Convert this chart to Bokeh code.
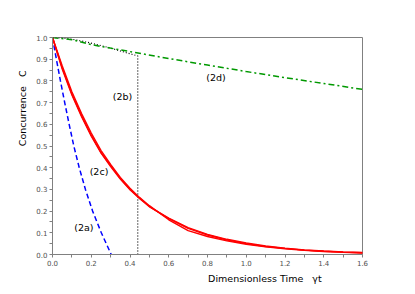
import math
from bokeh.plotting import figure
from bokeh.models import FixedTicker, PrintfTickFormatter, Label, Range1d
from bokeh.embed import file_html
from bokeh.resources import INLINE

# (2a) blue dashed
t_a = [0.0, 0.02, 0.041, 0.063, 0.086, 0.11, 0.138, 0.17, 0.207, 0.252, 0.303]
c_a = [1.0, 0.9, 0.8, 0.7, 0.6, 0.5, 0.4, 0.3, 0.2, 0.1, 0.0]

# (2b) black dotted
t_b = [0.0, 0.05, 0.1, 0.15, 0.2, 0.25, 0.3, 0.35, 0.4, 0.44, 0.44]
c_b = [1.0, 0.998, 0.992, 0.984, 0.974, 0.963, 0.951, 0.938, 0.925, 0.915, 0.0]

# (2c) red solid (several nearly coincident curves)
t_c = [0.0, 0.05, 0.1, 0.15, 0.2, 0.25, 0.3, 0.35, 0.4, 0.45, 0.5, 0.6, 0.7,
       0.8, 0.9, 1.0, 1.1, 1.2, 1.3, 1.4, 1.5, 1.6]
c_c1 = [1.0, 0.86, 0.74, 0.64, 0.55, 0.47, 0.41, 0.35, 0.30, 0.26, 0.22, 0.165,
        0.12, 0.09, 0.067, 0.05, 0.037, 0.028, 0.02, 0.015, 0.011, 0.008]
c_c2 = [1.0, 0.87, 0.75, 0.65, 0.56, 0.48, 0.415, 0.355, 0.305, 0.262, 0.225, 0.16,
        0.11, 0.083, 0.063, 0.047, 0.035, 0.026, 0.019, 0.014, 0.010, 0.007]
c_c3 = [1.0, 0.855, 0.735, 0.635, 0.545, 0.468, 0.405, 0.348, 0.298, 0.257, 0.221, 0.168,
        0.124, 0.093, 0.07, 0.053, 0.039, 0.029, 0.021, 0.016, 0.012, 0.009]

# (2d) green dash-dot
t_d = [0.0, 0.1, 0.2, 0.4, 0.6, 0.8, 1.0, 1.2, 1.4, 1.6]
c_d = [1.0, 0.99, 0.967, 0.935, 0.903, 0.873, 0.843, 0.815, 0.788, 0.761]

x_ticks = [0.0, 0.2, 0.4, 0.6, 0.8, 1.0, 1.2, 1.4, 1.6]
x_minor = [0.1, 0.3, 0.5, 0.7, 0.9, 1.1, 1.3, 1.5]
y_ticks = [0.0, 0.1, 0.2, 0.3, 0.4, 0.5, 0.6, 0.7, 0.8, 0.9, 1.0]
y_minor = [0.05, 0.15, 0.25, 0.35, 0.45, 0.55, 0.65, 0.75, 0.85, 0.95]

curve_labels = ["(2a)", "(2b)", "(2c)", "(2d)"]
label_t = [0.162, 0.361, 0.240, 0.844]
label_c = [0.123, 0.73, 0.381, 0.815]

x_title = "Dimensionless Time\u00a0\u00a0\u00a0\u03b3t"
y_title = "Concurrence\u00a0\u00a0\u00a0C"

FONT = "DejaVu Sans"
NB = "\u00a0"

p = figure(width=407, height=286, output_backend="svg", toolbar_location=None,
           x_range=Range1d(0, 1.6), y_range=Range1d(0, 1.0),
           min_border_left=52, min_border_right=45, min_border_top=37,
           min_border_bottom=30)
p.xgrid.visible = False
p.ygrid.visible = False
p.outline_line_color = "#808080"
p.outline_line_width = 1

for ax in (p.xaxis[0], p.yaxis[0]):
    ax.axis_line_color = "#808080"
    ax.major_tick_line_color = "#808080"
    ax.minor_tick_line_color = "#808080"
    ax.major_tick_in = 0
    ax.major_tick_out = 3
    ax.minor_tick_in = 0
    ax.minor_tick_out = 3
    ax.major_label_text_font = FONT
    ax.major_label_text_font_size = "7px"
    ax.major_label_text_color = "#505050"
    ax.major_label_standoff = 2
    ax.formatter = PrintfTickFormatter(format="%.1f")
    ax.axis_label_text_font = FONT
    ax.axis_label_text_font_size = "9.5px"
    ax.axis_label_text_font_style = "normal"
    ax.axis_label_text_color = "#000000"
p.xaxis[0].ticker = FixedTicker(ticks=x_ticks, minor_ticks=x_minor)
p.yaxis[0].ticker = FixedTicker(ticks=y_ticks, minor_ticks=y_minor)
# leading padding so that the visible title starts at the axis centre
p.xaxis[0].axis_label = NB * 38 + x_title
p.yaxis[0].axis_label = NB * 25 + y_title
p.xaxis[0].axis_label_standoff = 4
p.yaxis[0].axis_label_standoff = 5

p.line(t_a, c_a, line_color="#0000ff", line_width=1.5, line_dash="5 3")
p.line(t_b, c_b, line_color="#000000", line_width=1.2, line_dash="1 2")
for cc in (c_c1, c_c2, c_c3):
    p.line(t_c, cc, line_color="#ff0000", line_width=1.4)
p.line(t_d, c_d, line_color="#009900", line_width=1.5, line_dash="6 3 2 3")

for txt, tx, cy in zip(curve_labels, label_t, label_c):
    p.add_layout(Label(x=tx, y=cy, text=txt, text_font=FONT, text_font_size="9.5px",
                       text_align="center", text_baseline="middle", text_color="#000000"))

open("out.html", "w").write(file_html(p, INLINE))
